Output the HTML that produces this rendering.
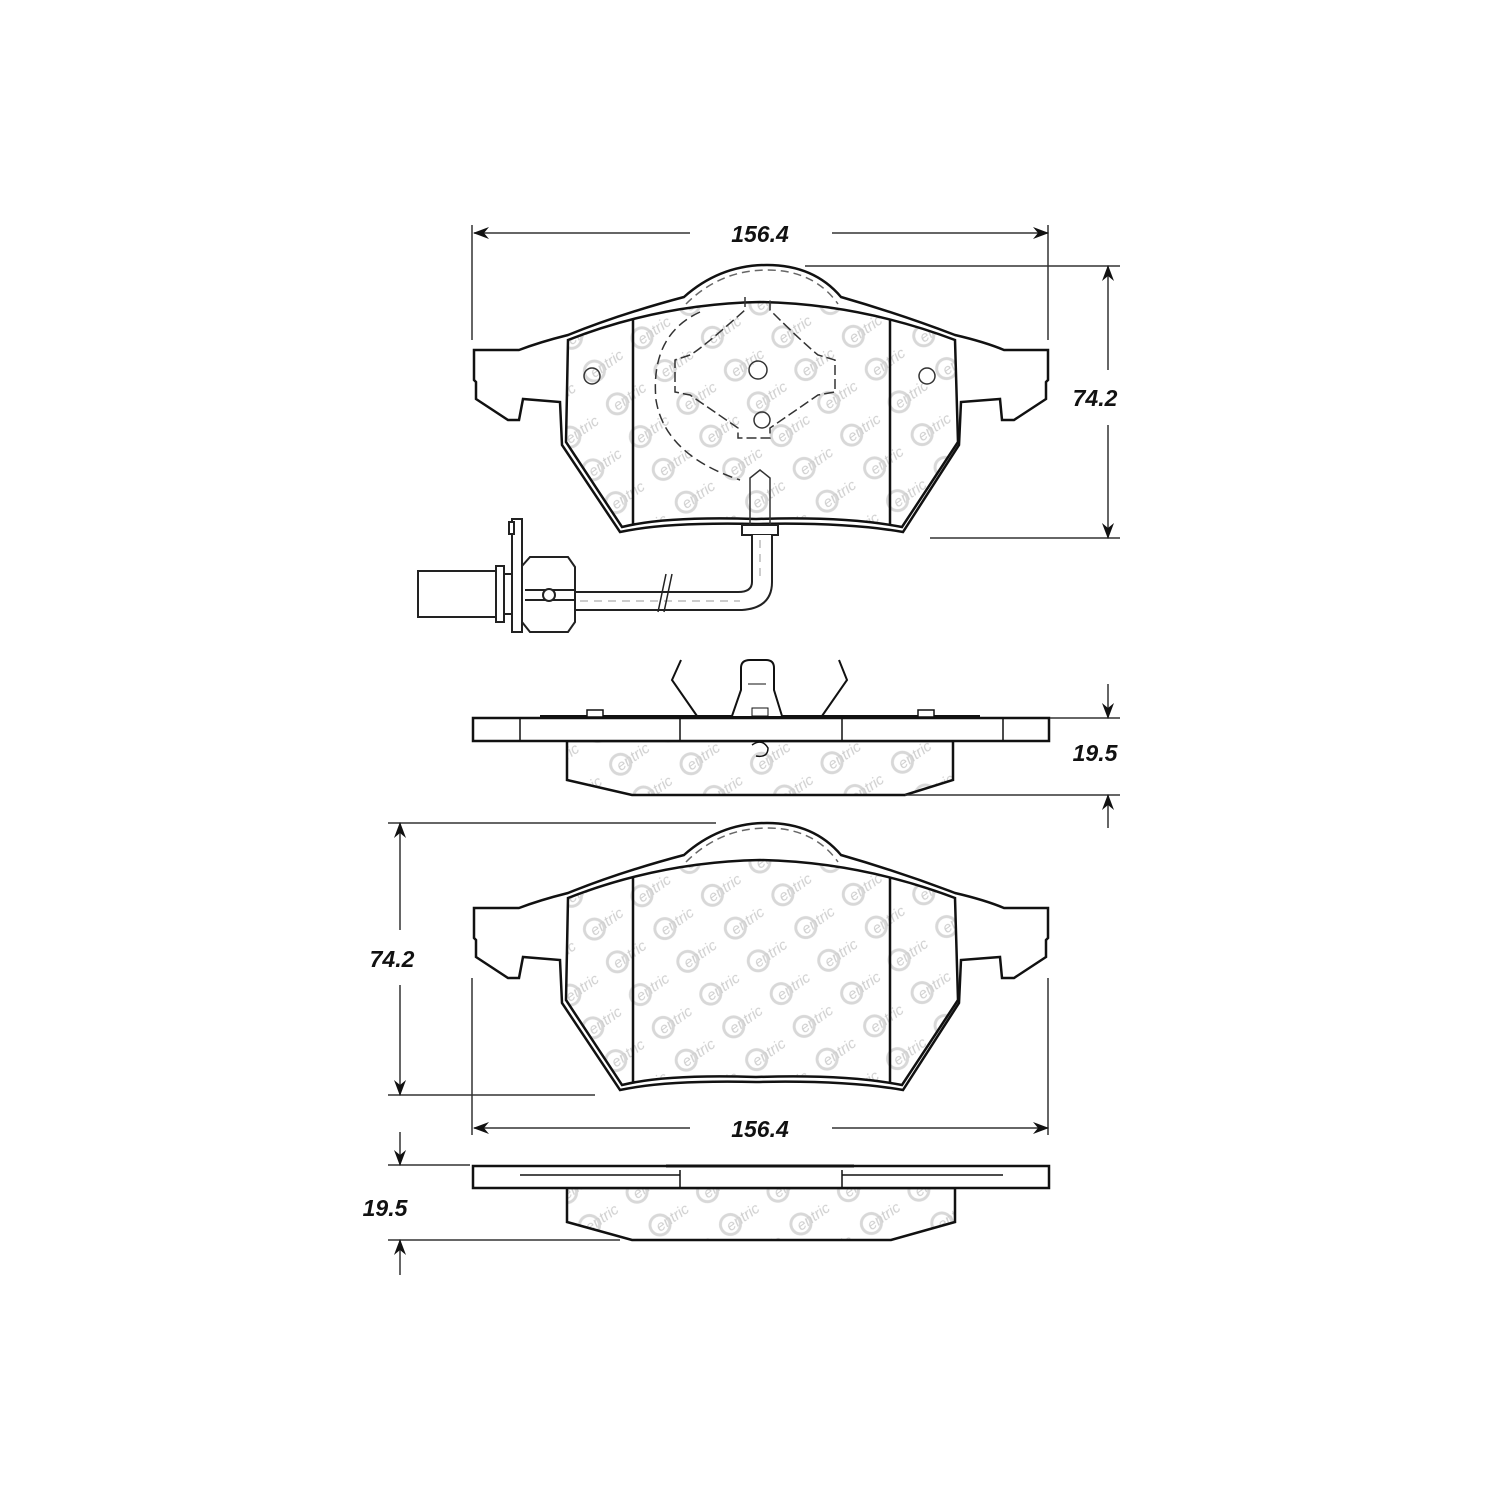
<!DOCTYPE html>
<html><head><meta charset="utf-8"><style>
html,body{margin:0;padding:0;background:#fff}
svg{display:block}
.t{font-family:"Liberation Sans",sans-serif;font-weight:bold;font-style:italic;font-size:23px;fill:#111}
.wm{font-family:"Liberation Sans",sans-serif;font-style:italic;font-size:15px;fill:#cfcfcf}
</style></head><body>
<svg width="1500" height="1500" viewBox="0 0 1500 1500" xmlns="http://www.w3.org/2000/svg">
<defs>
<pattern id="wm" width="58" height="40" patternUnits="userSpaceOnUse" patternTransform="rotate(-35)">
<circle cx="12" cy="22" r="10" fill="none" stroke="#d8d8d8" stroke-width="3"/>
<text class="wm" x="8" y="28">entric</text>
</pattern>
<marker id="ar" markerWidth="16" markerHeight="12" refX="15" refY="6" orient="auto" markerUnits="userSpaceOnUse">
<path d="M0,0 L16,6 L0,12 L5,6 Z" fill="#111"/>
</marker>
<g id="pad">
<path d="M474,908 L519,908 Q540,900 568,893 Q620,872 684,855 Q720,823 767,823 Q814,823 841,855 Q900,872 955,893 Q985,900 1004,908 L1048,908 L1048,938 L1046,940 L1046,957 L1014,978 L1002,978 L1000,957 L961,960 L959,1003 L903,1090 Q846,1080 756,1082 Q666,1080 620,1090 L562,1003 L560,960 L523,957 L519,978 L508,978 L476,957 L476,940 L474,938 Z" fill="#fff" stroke="#111" stroke-width="2.5"/>
<path d="M568,898 Q660,862 760,860 Q860,862 955,898 L958,1000 L902,1085 Q846,1074 756,1077 Q666,1074 622,1085 L566,1000 Z" fill="url(#wm)" stroke="#111" stroke-width="2.5"/>
<path d="M633,877 L633,1082 M890,877 L890,1082" stroke="#111" stroke-width="2.5"/>
<path d="M686,862 Q720,828 767,828 Q814,828 838,862" fill="none" stroke="#666" stroke-width="1.5" stroke-dasharray="8,5"/>
</g>
</defs>

<use href="#pad" transform="translate(0,-558)"/>
<g fill="none" stroke="#333" stroke-width="1.5">
<path d="M745,297 L745,310 Q700,350 690,355 L675,360 L675,392 L690,395 L738,428 L738,438 L770,438 L770,428 L818,395 L835,392 L835,360 L818,355 Q800,340 770,310 L770,297" stroke-dasharray="10,4"/>
<path d="M700,312 Q650,335 656,400 Q665,455 740,480" stroke-dasharray="10,5"/>
<circle cx="758" cy="370" r="9"/>
<circle cx="762" cy="420" r="8"/>
<circle cx="592" cy="376" r="8"/>
<circle cx="927" cy="376" r="8"/>
<path d="M750,485 L750,478 L760,470 L770,478 L770,527 L750,527 Z"/>
</g>
<g fill="#fff" stroke="#222" stroke-width="2">
<rect x="742" y="525" width="36" height="10"/>
<path d="M752,535 L752,582 Q752,592 738,592 L575,592 L575,610 L742,610 Q772,608 772,582 L772,535"/>
<path d="M580,601 L740,601 M760,540 L760,580" stroke="#999" stroke-width="1" stroke-dasharray="8,6"/>
<path d="M658,612 L666,574 M664,612 L672,574" stroke-width="1.5"/>
<rect x="418" y="571" width="78" height="46"/>
<rect x="496" y="566" width="8" height="56"/>
<rect x="504" y="574" width="8" height="40"/>
<rect x="512" y="519" width="10" height="113"/>
<rect x="509" y="522" width="5" height="12"/>
<path d="M522,566 L530,557 L568,557 L575,567 L575,622 L568,632 L530,632 L522,622 Z"/>
<path d="M525,590 L575,590 M525,600 L575,600"/>
<circle cx="549" cy="595" r="6"/>
</g>

<g stroke="#111" stroke-width="2.5" fill="#fff">
<path d="M567,741 L567,780 L632,795 L905,795 L953,780 L953,741 Z" fill="url(#wm)"/>
<rect x="473" y="718" width="576" height="23"/>
<path d="M680,718 L680,741 M842,718 L842,741 M520,718 L520,741 M1003,718 L1003,741" stroke-width="1.5"/>
<path d="M540,716 L980,716" stroke-width="2"/>
<rect x="587" y="710" width="16" height="7" stroke-width="1.5"/>
<rect x="918" y="710" width="16" height="7" stroke-width="1.5"/>
<path d="M681,660 L672,680 L697,716 M839,660 L847,680 L822,716" fill="none" stroke-width="2"/>
<path d="M732,716 L741,690 L741,668 Q741,660 750,660 L766,660 Q774,660 774,668 L774,690 L782,716" fill="#fff" stroke-width="2"/>
<path d="M748,684 L766,684 M752,708 L768,708 L768,716 L752,716Z" stroke-width="1"/>
<path d="M752,745 Q762,738 768,748 Q768,758 756,756" fill="none" stroke-width="1.5"/>
</g>

<use href="#pad"/>

<g stroke="#111" stroke-width="2.5" fill="#fff">
<path d="M567,1188 L567,1222 L632,1240 L891,1240 L955,1222 L955,1188 Z" fill="url(#wm)"/>
<rect x="473" y="1166" width="576" height="22"/>
<path d="M520,1175 L680,1175 M842,1175 L1003,1175 M680,1170 L680,1188 M842,1170 L842,1188" stroke-width="1.5"/>
<path d="M666,1166 L854,1166" stroke-width="3"/>
</g>

<g stroke="#333" stroke-width="1.5" fill="none">
<path d="M472,225 L472,340 M1048,225 L1048,340"/>
<path d="M690,233 L474,233" marker-end="url(#ar)"/>
<path d="M832,233 L1048,233" marker-end="url(#ar)"/>
<path d="M805,266 L1120,266 M930,538 L1120,538"/>
<path d="M1108,370 L1108,266" marker-end="url(#ar)"/>
<path d="M1108,425 L1108,538" marker-end="url(#ar)"/>
<path d="M1050,718 L1120,718 M905,795 L1120,795"/>
<path d="M1108,684 L1108,718" marker-end="url(#ar)"/>
<path d="M1108,828 L1108,795" marker-end="url(#ar)"/>
<path d="M388,823 L716,823 M388,1095 L595,1095"/>
<path d="M400,930 L400,823" marker-end="url(#ar)"/>
<path d="M400,985 L400,1095" marker-end="url(#ar)"/>
<path d="M472,978 L472,1135 M1048,978 L1048,1135"/>
<path d="M690,1128 L474,1128" marker-end="url(#ar)"/>
<path d="M832,1128 L1048,1128" marker-end="url(#ar)"/>
<path d="M388,1165 L470,1165 M388,1240 L620,1240"/>
<path d="M400,1132 L400,1165" marker-end="url(#ar)"/>
<path d="M400,1275 L400,1240" marker-end="url(#ar)"/>
</g>
<text class="t" x="760" y="242" text-anchor="middle">156.4</text>
<text class="t" x="1095" y="406" text-anchor="middle">74.2</text>
<text class="t" x="1095" y="761" text-anchor="middle">19.5</text>
<text class="t" x="392" y="967" text-anchor="middle">74.2</text>
<text class="t" x="760" y="1137" text-anchor="middle">156.4</text>
<text class="t" x="385" y="1216" text-anchor="middle">19.5</text>
</svg>
</body></html>
